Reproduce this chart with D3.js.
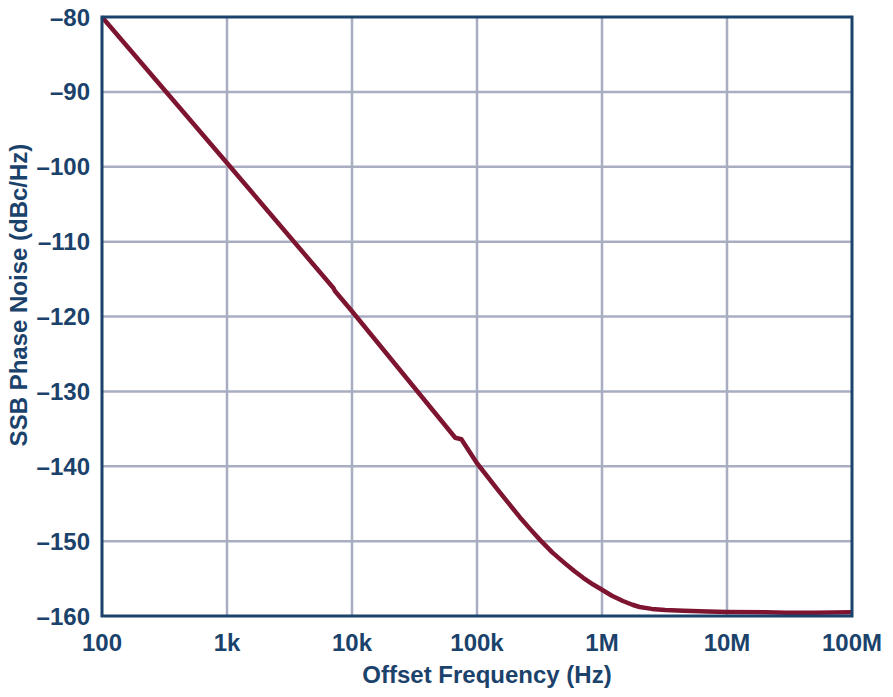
<!DOCTYPE html>
<html>
<head>
<meta charset="utf-8">
<script src="https://cdn.jsdelivr.net/npm/d3@7"></script>
<style>
  body { margin: 0; background: #fff; }
  text { font-family: "Liberation Sans", Arial, Helvetica, sans-serif; font-weight: bold; fill: #1b426b; }
</style>
</head>
<body>
<svg id="chart" width="893" height="697"></svg>
<script>
// offset frequency (Hz) and SSB phase noise (dBc/Hz)
var freqs = [100, 1000, 7100, 7300, 10000, 67000, 75000, 100000, 149000, 180000, 220000, 270000,
  322000, 400000, 500000, 600000, 707000, 850000, 1e6, 1.2e6, 1.47e6, 1.75e6, 2e6, 2.5e6, 3.2e6,
  4.5e6, 7e6, 1e7, 2e7, 3e7, 5e7, 1e8];
var noise = [-80, -99.5, -116.2, -116.6, -119.3, -136.2, -136.4, -139.6, -143.3, -145.0, -146.8, -148.5,
  -149.9, -151.5, -152.9, -154.0, -154.9, -155.8, -156.5, -157.3, -158.0, -158.5, -158.8, -159.05, -159.2,
  -159.3, -159.4, -159.45, -159.5, -159.55, -159.55, -159.5];

var xTicks = [100, 1e3, 1e4, 1e5, 1e6, 1e7, 1e8];
var xTickLabels = ["100", "1k", "10k", "100k", "1M", "10M", "100M"];
var yTicks = [-80, -90, -100, -110, -120, -130, -140, -150, -160];

(function() {
  var navy = "#1b426b", grid = "#a9adc2", red = "#7e1530";
  var pLeft = 102, pRight = 852, pTop = 17, pBottom = 616;

  var svg = d3.select("#chart");
  var x = d3.scaleLog().domain([100, 1e8]).range([pLeft, pRight]);
  var y = d3.scaleLinear().domain([-160, -80]).range([pBottom, pTop]);

  // grid
  var g = svg.append("g");
  g.selectAll("line.vg").data(xTicks.slice(1, -1)).enter().append("line")
    .attr("x1", d => x(d)).attr("x2", d => x(d))
    .attr("y1", pTop).attr("y2", pBottom)
    .attr("stroke", grid).attr("stroke-width", 2.5);
  g.selectAll("line.hg").data(yTicks.slice(1, -1)).enter().append("line")
    .attr("x1", pLeft).attr("x2", pRight)
    .attr("y1", d => y(d)).attr("y2", d => y(d))
    .attr("stroke", grid).attr("stroke-width", 2.5);

  // curve
  var pts = freqs.map((f, i) => [f, noise[i]]);
  var line = d3.line().x(d => x(d[0])).y(d => y(d[1]));
  svg.append("path").datum(pts)
    .attr("d", line)
    .attr("fill", "none")
    .attr("stroke", red)
    .attr("stroke-width", 4.5)
    .attr("stroke-linejoin", "round");

  // frame
  svg.append("rect")
    .attr("x", pLeft).attr("y", pTop)
    .attr("width", pRight - pLeft).attr("height", pBottom - pTop)
    .attr("fill", "none").attr("stroke", navy).attr("stroke-width", 3);

  // tick labels
  svg.selectAll("text.yt").data(yTicks).enter().append("text")
    .attr("x", pLeft - 12).attr("y", d => y(d) + 8.5)
    .attr("text-anchor", "end").attr("font-size", 24)
    .text(d => "\u2013" + Math.abs(d));

  svg.selectAll("text.xt").data(xTicks).enter().append("text")
    .attr("x", d => x(d)).attr("y", 651)
    .attr("text-anchor", "middle").attr("font-size", 24)
    .text((d, i) => xTickLabels[i]);

  // axis titles
  svg.append("text")
    .attr("x", 487).attr("y", 683)
    .attr("text-anchor", "middle").attr("font-size", 24)
    .text("Offset Frequency (Hz)");

  svg.append("text")
    .attr("transform", "translate(27,295) rotate(-90)")
    .attr("text-anchor", "middle").attr("font-size", 24)
    .text("SSB Phase Noise (dBc/Hz)");
})();
</script>
</body>
</html>
